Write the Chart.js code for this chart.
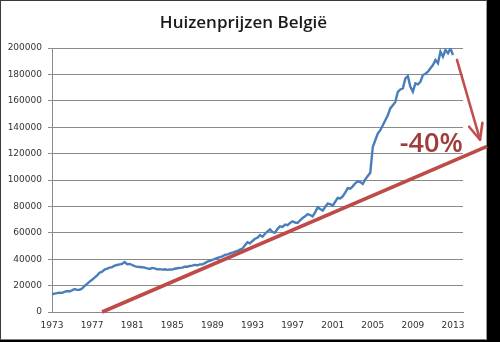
<!DOCTYPE html>
<html><head><meta charset="utf-8">
<script src="https://cdn.jsdelivr.net/npm/chart.js@4"></script>
<style>
html,body{margin:0;padding:0;background:#000;width:500px;height:342px;overflow:hidden}
#frame{position:absolute;left:0;top:0;width:487px;height:340px;box-sizing:border-box;background:#fff;border-left:1px solid #3a3a3a;border-top:1px solid #3a3a3a;border-right:1px solid #9a9a9a;border-bottom:1px solid #808080}
#c{position:absolute;left:0;top:0}
</style></head><body>
<div id="frame"></div>
<canvas id="c" width="500" height="342"></canvas>
<script>
const chartTitle = 'Huizenprijzen België';
const startYear = 1973;
// quarterly average house prices (EUR), 1973 Q1 .. 2013 Q1
const prices = [
  13400, 13900, 14300, 14600,
  14500, 15200, 15900, 15600,
  16400, 17400, 16800, 16900,
  17800, 19700, 21300, 23000,
  24400, 26000, 27800, 29800,
  30500, 32100, 32800, 33600,
  34000, 35100, 35600, 36100,
  36500, 37800, 36200, 36400,
  35600, 34800, 34200, 34100,
  33900, 33600, 33000, 32600,
  33400, 33100, 32300, 32500,
  32100, 32400, 31900, 32300,
  32100, 32800, 33100, 33400,
  33600, 34400, 34300, 34900,
  35100, 35700, 35400, 36000,
  36100, 37000, 38100, 38700,
  39400, 40300, 40900, 41500,
  42200, 43200, 43700, 44400,
  44900, 45800, 46200, 47200,
  48000, 50500, 52800, 52000,
  53800, 55500, 56200, 58300,
  57000, 59300, 61000, 62600,
  60500, 60100, 63000, 64900,
  64500, 66200, 65800, 67500,
  68700, 67800, 67400, 69500,
  71200, 72500, 74200, 73500,
  72500, 75500, 79300, 78000,
  76800, 79500, 82100, 81800,
  80600, 83500, 86400, 86000,
  87600, 90500, 93900, 93500,
  95200, 97500, 99000, 98500,
  97000, 100500, 103000, 105500,
  125000, 130100, 135200, 137700,
  141500, 145300, 149100, 154200,
  156700, 159200, 166800, 168600,
  169400, 177000, 178700, 170600,
  166800, 173200, 172500, 174400,
  179500, 180500, 182000, 184600,
  187100, 190900, 188400, 197200,
  193400, 198500, 196000, 199700,
  194700
];
const xTickYears = [1973, 1977, 1981, 1985, 1989, 1993, 1997, 2001, 2005, 2009, 2013];
const yTickValues = [0, 20000, 40000, 60000, 80000, 100000, 120000, 140000, 160000, 180000, 200000];
const xRange = [1973, 2014];
const trendX = [1978.0, 2016.4];
const trendY = [0, 125500];
const arrowX = [2013.4, 2015.7];
const arrowY = [191000, 130500];
const dropLabel = '-40%';
const dropLabelAt = [2007.7, 121000];

const pricePoints = prices.map((v, i) => ({x: startYear + i / 4, y: v}));
const trendPoints = trendX.map((x, i) => ({x: x, y: trendY[i]}));

const annotations = {
  id: 'annotations',
  afterDatasetsDraw(chart) {
    const {ctx, scales: {x, y}} = chart;
    ctx.save();
    const x1 = x.getPixelForValue(arrowX[0]), y1 = y.getPixelForValue(arrowY[0]);
    const x2 = x.getPixelForValue(arrowX[1]), y2 = y.getPixelForValue(arrowY[1]);
    ctx.strokeStyle = '#C0504D';
    ctx.lineWidth = 2.6;
    ctx.lineCap = 'round';
    ctx.lineJoin = 'round';
    ctx.beginPath(); ctx.moveTo(x1, y1); ctx.lineTo(x2, y2); ctx.stroke();
    const ang = Math.atan2(y2 - y1, x2 - x1), L = 17, a = 0.42;
    ctx.beginPath();
    ctx.moveTo(x2 - L * Math.cos(ang - a), y2 - L * Math.sin(ang - a));
    ctx.lineTo(x2, y2);
    ctx.lineTo(x2 - L * Math.cos(ang + a), y2 - L * Math.sin(ang + a));
    ctx.stroke();
    ctx.fillStyle = '#A03C3A';
    ctx.font = '600 27px "Open Sans"';
    ctx.textAlign = 'left';
    ctx.textBaseline = 'alphabetic';
    ctx.fillText(dropLabel, x.getPixelForValue(dropLabelAt[0]), y.getPixelForValue(dropLabelAt[1]));
    ctx.fillStyle = '#1a1a1a';
    ctx.font = '600 17px "Open Sans"';
    ctx.textAlign = 'center';
    ctx.fillText(chartTitle, 243.5, 28);
    ctx.restore();
  }
};

new Chart(document.getElementById('c'), {
  type: 'line',
  data: {
    datasets: [
      {data: trendPoints, borderColor: '#BE4B48', borderWidth: 3.6, pointRadius: 0, clip: false, order: 0, borderCapStyle: 'butt'},
      {data: pricePoints, borderColor: '#4A7EBB', borderWidth: 2.4, pointRadius: 0, tension: 0, order: 1}
    ]
  },
  options: {
    responsive: false,
    animation: false,
    devicePixelRatio: 1,
    layout: {padding: {left: 0, right: 37, top: 48, bottom: 0}},
    plugins: {legend: {display: false}, tooltip: {enabled: false}, title: {display: false}},
    scales: {
      x: {
        type: 'linear', min: xRange[0], max: xRange[1],
        afterBuildTicks: s => { s.ticks = xTickYears.map(v => ({value: v})); },
        afterFit: s => { s.height = 30; },
        grid: {display: false, drawTicks: false, tickLength: 0},
        border: {display: true, color: '#8a8a8a', width: 1},
        ticks: {color: '#333', font: {family: 'DejaVu Sans', size: 9}, padding: 8, maxRotation: 0, autoSkip: false, callback: v => String(v)}
      },
      y: {
        min: 0, max: 200000,
        afterBuildTicks: s => { s.ticks = yTickValues.map(v => ({value: v})); },
        afterFit: s => { s.width = 52; },
        grid: {color: '#8a8a8a', lineWidth: 1, tickLength: 4},
        border: {display: true, color: '#8a8a8a', width: 1},
        ticks: {color: '#333', font: {family: 'DejaVu Sans', size: 9}, padding: 6, callback: v => String(v)}
      }
    }
  },
  plugins: [annotations]
});
</script>
</body></html>
